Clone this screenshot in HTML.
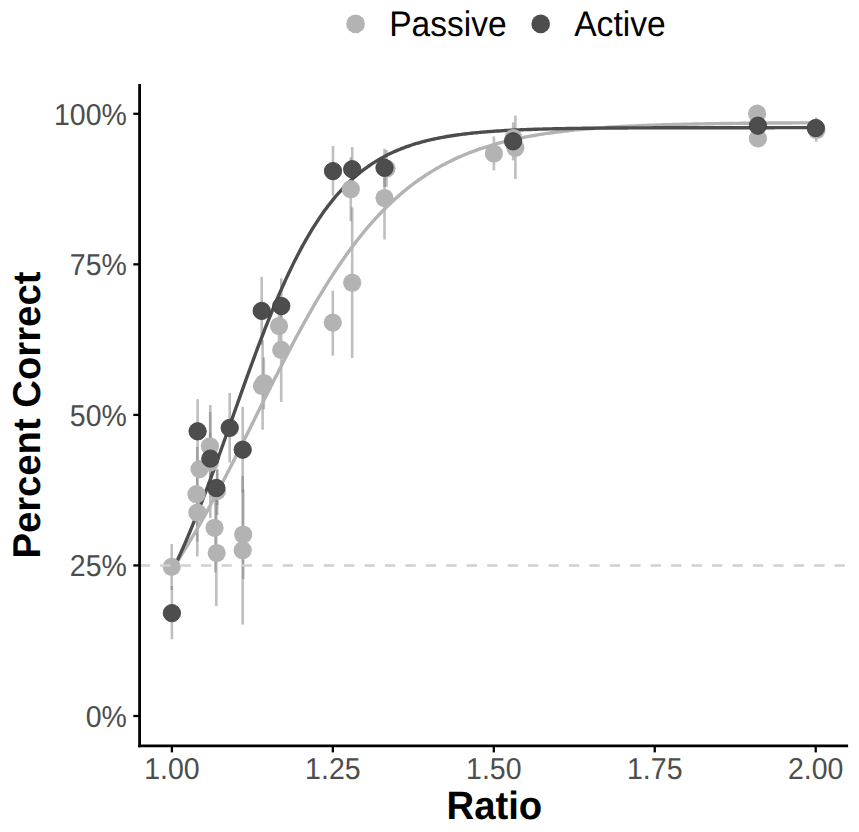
<!DOCTYPE html>
<html><head><meta charset="utf-8"><style>
html,body{margin:0;padding:0;background:#fff;}
svg{display:block;}
text{font-family:"Liberation Sans",sans-serif;text-rendering:geometricPrecision;}
</style></head><body>
<svg width="859" height="832" viewBox="0 0 859 832">
<rect width="859" height="832" fill="#fff"/>
<g stroke="#7f7f7f" stroke-opacity="0.5" stroke-width="2.6">
<line x1="171.7" y1="544.1" x2="171.7" y2="590"/>
<line x1="171.9" y1="586" x2="171.9" y2="639.3"/>
<line x1="197.6" y1="399.1" x2="197.6" y2="463.4"/>
<line x1="197.2" y1="446.9" x2="197.2" y2="541.5"/>
<line x1="197.3" y1="468.8" x2="197.3" y2="556.4"/>
<line x1="210.3" y1="405" x2="210.3" y2="518"/>
<line x1="210.2" y1="412" x2="210.2" y2="480.6"/>
<line x1="210.2" y1="432.9" x2="210.2" y2="470"/>
<line x1="217.2" y1="468.8" x2="217.2" y2="515"/>
<line x1="217.2" y1="470" x2="217.2" y2="505"/>
<line x1="215.4" y1="483.2" x2="215.4" y2="572.4"/>
<line x1="216.3" y1="499.9" x2="216.3" y2="606.1"/>
<line x1="229.7" y1="393" x2="229.7" y2="462.5"/>
<line x1="242.7" y1="406.8" x2="242.7" y2="492.6"/>
<line x1="243.2" y1="489.3" x2="243.2" y2="579.2"/>
<line x1="242.7" y1="475.8" x2="242.7" y2="624.6"/>
<line x1="261.7" y1="276.9" x2="261.7" y2="344.9"/>
<line x1="262.6" y1="340" x2="262.6" y2="429.7"/>
<line x1="263.8" y1="357.5" x2="263.8" y2="409.4"/>
<line x1="281.3" y1="278.4" x2="281.3" y2="333.6"/>
<line x1="281.2" y1="298" x2="281.2" y2="401.9"/>
<line x1="279" y1="300" x2="279" y2="352"/>
<line x1="333" y1="146" x2="333" y2="195.7"/>
<line x1="332.8" y1="290.7" x2="332.8" y2="355.7"/>
<line x1="352.2" y1="147" x2="352.2" y2="191.4"/>
<line x1="350.8" y1="157.3" x2="350.8" y2="221.2"/>
<line x1="352.2" y1="207.4" x2="352.2" y2="358"/>
<line x1="384.5" y1="148.7" x2="384.5" y2="186.9"/>
<line x1="384.5" y1="156.5" x2="384.5" y2="239.5"/>
<line x1="386.5" y1="150" x2="386.5" y2="187"/>
<line x1="493.9" y1="136.5" x2="493.9" y2="170.4"/>
<line x1="515.4" y1="115.6" x2="515.4" y2="179"/>
<line x1="513.2" y1="122.3" x2="513.2" y2="160.3"/>
<line x1="757.5" y1="108" x2="757.5" y2="142"/>
<line x1="816.2" y1="117.4" x2="816.2" y2="141.7"/>
</g>
<path d="M171.90,569.49 L173.51,567.09 L175.12,564.66 L176.73,562.21 L178.34,559.73 L179.95,557.22 L181.56,554.69 L183.17,552.13 L184.78,549.55 L186.39,546.94 L187.99,544.30 L189.60,541.65 L191.21,538.96 L192.82,536.25 L194.43,533.52 L196.04,530.77 L197.65,527.99 L199.26,525.19 L200.87,522.37 L202.48,519.52 L204.09,516.66 L205.70,513.77 L207.31,510.86 L208.92,507.93 L210.53,504.98 L212.14,502.02 L213.75,499.03 L215.36,496.03 L216.97,493.01 L218.58,489.97 L220.18,486.91 L221.79,483.84 L223.40,480.76 L225.01,477.66 L226.62,474.55 L228.23,471.42 L229.84,468.28 L231.45,465.13 L233.06,461.97 L234.67,458.80 L236.28,455.62 L237.89,452.43 L239.50,449.23 L241.11,446.02 L242.72,442.81 L244.33,439.59 L245.94,436.37 L247.55,433.14 L249.16,429.91 L250.77,426.68 L252.38,423.44 L253.98,420.20 L255.59,416.96 L257.20,413.73 L258.81,410.49 L260.42,407.25 L262.03,404.02 L263.64,400.79 L265.25,397.57 L266.86,394.35 L268.47,391.13 L270.08,387.92 L271.69,384.72 L273.30,381.53 L274.91,378.34 L276.52,375.17 L278.13,372.00 L279.74,368.85 L281.35,365.71 L282.96,362.58 L284.57,359.46 L286.17,356.35 L287.78,353.26 L289.39,350.19 L291.00,347.13 L292.61,344.08 L294.22,341.06 L295.83,338.05 L297.44,335.05 L299.05,332.08 L300.66,329.13 L302.27,326.19 L303.88,323.27 L305.49,320.38 L307.10,317.50 L308.71,314.65 L310.32,311.82 L311.93,309.01 L313.54,306.22 L315.15,303.46 L316.76,300.72 L318.36,298.00 L319.97,295.31 L321.58,292.64 L323.19,290.00 L324.80,287.38 L326.41,284.79 L328.02,282.22 L329.63,279.68 L331.24,277.17 L332.85,274.68 L334.46,272.21 L336.07,269.78 L337.68,267.37 L339.29,264.98 L340.90,262.63 L342.51,260.30 L344.12,257.99 L345.73,255.72 L347.34,253.47 L348.94,251.25 L350.55,249.06 L352.16,246.89 L353.77,244.75 L355.38,242.64 L356.99,240.56 L358.60,238.50 L360.21,236.47 L361.82,234.47 L363.43,232.49 L365.04,230.54 L366.65,228.62 L368.26,226.73 L369.87,224.86 L371.48,223.02 L373.09,221.20 L374.70,219.42 L376.31,217.65 L377.92,215.92 L379.53,214.21 L381.13,212.52 L382.74,210.86 L384.35,209.23 L385.96,207.62 L387.57,206.03 L389.18,204.47 L390.79,202.94 L392.40,201.43 L394.01,199.94 L395.62,198.48 L397.23,197.04 L398.84,195.62 L400.45,194.23 L402.06,192.86 L403.67,191.52 L405.28,190.19 L406.89,188.89 L408.50,187.61 L410.11,186.35 L411.72,185.11 L413.32,183.90 L414.93,182.70 L416.54,181.53 L418.15,180.37 L419.76,179.24 L421.37,178.13 L422.98,177.03 L424.59,175.96 L426.20,174.90 L427.81,173.86 L429.42,172.85 L431.03,171.85 L432.64,170.86 L434.25,169.90 L435.86,168.95 L437.47,168.03 L439.08,167.11 L440.69,166.22 L442.30,165.34 L443.91,164.48 L445.51,163.63 L447.12,162.80 L448.73,161.99 L450.34,161.19 L451.95,160.40 L453.56,159.63 L455.17,158.88 L456.78,158.14 L458.39,157.41 L460.00,156.70 L461.61,156.00 L463.22,155.31 L464.83,154.64 L466.44,153.98 L468.05,153.34 L469.66,152.70 L471.27,152.08 L472.88,151.47 L474.49,150.88 L476.10,150.29 L477.71,149.72 L479.31,149.15 L480.92,148.60 L482.53,148.06 L484.14,147.53 L485.75,147.01 L487.36,146.50 L488.97,146.00 L490.58,145.51 L492.19,145.03 L493.80,144.56 L495.41,144.10 L497.02,143.65 L498.63,143.21 L500.24,142.78 L501.85,142.35 L503.46,141.94 L505.07,141.53 L506.68,141.13 L508.29,140.74 L509.89,140.36 L511.50,139.98 L513.11,139.62 L514.72,139.26 L516.33,138.90 L517.94,138.56 L519.55,138.22 L521.16,137.89 L522.77,137.56 L524.38,137.25 L525.99,136.94 L527.60,136.63 L529.21,136.33 L530.82,136.04 L532.43,135.75 L534.04,135.47 L535.65,135.20 L537.26,134.93 L538.87,134.67 L540.48,134.41 L542.09,134.16 L543.69,133.91 L545.30,133.67 L546.91,133.43 L548.52,133.20 L550.13,132.97 L551.74,132.75 L553.35,132.53 L554.96,132.32 L556.57,132.11 L558.18,131.91 L559.79,131.71 L561.40,131.51 L563.01,131.32 L564.62,131.13 L566.23,130.95 L567.84,130.77 L569.45,130.59 L571.06,130.42 L572.67,130.25 L574.27,130.08 L575.88,129.92 L577.49,129.76 L579.10,129.61 L580.71,129.46 L582.32,129.31 L583.93,129.16 L585.54,129.02 L587.15,128.88 L588.76,128.75 L590.37,128.61 L591.98,128.48 L593.59,128.36 L595.20,128.23 L596.81,128.11 L598.42,127.99 L600.03,127.87 L601.64,127.76 L603.25,127.64 L604.86,127.53 L606.47,127.43 L608.07,127.32 L609.68,127.22 L611.29,127.12 L612.90,127.02 L614.51,126.92 L616.12,126.83 L617.73,126.74 L619.34,126.65 L620.95,126.56 L622.56,126.47 L624.17,126.39 L625.78,126.30 L627.39,126.22 L629.00,126.14 L630.61,126.06 L632.22,125.99 L633.83,125.91 L635.44,125.84 L637.05,125.77 L638.66,125.70 L640.26,125.63 L641.87,125.57 L643.48,125.50 L645.09,125.44 L646.70,125.37 L648.31,125.31 L649.92,125.25 L651.53,125.19 L653.14,125.14 L654.75,125.08 L656.36,125.03 L657.97,124.97 L659.58,124.92 L661.19,124.87 L662.80,124.82 L664.41,124.77 L666.02,124.72 L667.63,124.67 L669.24,124.63 L670.84,124.58 L672.45,124.54 L674.06,124.49 L675.67,124.45 L677.28,124.41 L678.89,124.37 L680.50,124.33 L682.11,124.29 L683.72,124.25 L685.33,124.22 L686.94,124.18 L688.55,124.14 L690.16,124.11 L691.77,124.08 L693.38,124.04 L694.99,124.01 L696.60,123.98 L698.21,123.95 L699.82,123.92 L701.43,123.89 L703.04,123.86 L704.64,123.83 L706.25,123.80 L707.86,123.77 L709.47,123.75 L711.08,123.72 L712.69,123.69 L714.30,123.67 L715.91,123.64 L717.52,123.62 L719.13,123.60 L720.74,123.57 L722.35,123.55 L723.96,123.53 L725.57,123.51 L727.18,123.49 L728.79,123.47 L730.40,123.45 L732.01,123.43 L733.62,123.41 L735.22,123.39 L736.83,123.37 L738.44,123.35 L740.05,123.33 L741.66,123.32 L743.27,123.30 L744.88,123.28 L746.49,123.27 L748.10,123.25 L749.71,123.24 L751.32,123.22 L752.93,123.21 L754.54,123.19 L756.15,123.18 L757.76,123.16 L759.37,123.15 L760.98,123.14 L762.59,123.12 L764.20,123.11 L765.81,123.10 L767.41,123.09 L769.02,123.07 L770.63,123.06 L772.24,123.05 L773.85,123.04 L775.46,123.03 L777.07,123.02 L778.68,123.01 L780.29,123.00 L781.90,122.99 L783.51,122.98 L785.12,122.97 L786.73,122.96 L788.34,122.95 L789.95,122.94 L791.56,122.93 L793.17,122.92 L794.78,122.92 L796.39,122.91 L798.00,122.90 L799.61,122.89 L801.21,122.88 L802.82,122.88 L804.43,122.87 L806.04,122.86 L807.65,122.85 L809.26,122.85 L810.87,122.84 L812.48,122.83 L814.09,122.83 L815.70,122.82" fill="none" stroke="#b3b3b3" stroke-width="3.4"/>
<path d="M171.90,571.87 L173.51,568.55 L175.12,565.17 L176.73,561.75 L178.34,558.27 L179.95,554.73 L181.56,551.15 L183.17,547.51 L184.78,543.83 L186.39,540.09 L187.99,536.31 L189.60,532.47 L191.21,528.59 L192.82,524.67 L194.43,520.70 L196.04,516.68 L197.65,512.63 L199.26,508.53 L200.87,504.39 L202.48,500.22 L204.09,496.01 L205.70,491.76 L207.31,487.48 L208.92,483.17 L210.53,478.83 L212.14,474.46 L213.75,470.07 L215.36,465.65 L216.97,461.21 L218.58,456.75 L220.18,452.27 L221.79,447.78 L223.40,443.27 L225.01,438.75 L226.62,434.22 L228.23,429.68 L229.84,425.14 L231.45,420.59 L233.06,416.04 L234.67,411.50 L236.28,406.96 L237.89,402.42 L239.50,397.89 L241.11,393.38 L242.72,388.87 L244.33,384.38 L245.94,379.91 L247.55,375.45 L249.16,371.02 L250.77,366.60 L252.38,362.22 L253.98,357.86 L255.59,353.52 L257.20,349.22 L258.81,344.95 L260.42,340.72 L262.03,336.52 L263.64,332.35 L265.25,328.23 L266.86,324.14 L268.47,320.10 L270.08,316.09 L271.69,312.14 L273.30,308.22 L274.91,304.36 L276.52,300.54 L278.13,296.77 L279.74,293.05 L281.35,289.37 L282.96,285.75 L284.57,282.18 L286.17,278.66 L287.78,275.20 L289.39,271.78 L291.00,268.43 L292.61,265.12 L294.22,261.87 L295.83,258.67 L297.44,255.53 L299.05,252.44 L300.66,249.41 L302.27,246.43 L303.88,243.50 L305.49,240.63 L307.10,237.82 L308.71,235.06 L310.32,232.35 L311.93,229.69 L313.54,227.09 L315.15,224.55 L316.76,222.05 L318.36,219.61 L319.97,217.22 L321.58,214.87 L323.19,212.58 L324.80,210.35 L326.41,208.15 L328.02,206.01 L329.63,203.92 L331.24,201.88 L332.85,199.88 L334.46,197.93 L336.07,196.02 L337.68,194.16 L339.29,192.34 L340.90,190.57 L342.51,188.84 L344.12,187.15 L345.73,185.50 L347.34,183.90 L348.94,182.33 L350.55,180.80 L352.16,179.31 L353.77,177.86 L355.38,176.45 L356.99,175.07 L358.60,173.73 L360.21,172.42 L361.82,171.15 L363.43,169.91 L365.04,168.70 L366.65,167.53 L368.26,166.38 L369.87,165.27 L371.48,164.19 L373.09,163.13 L374.70,162.11 L376.31,161.11 L377.92,160.14 L379.53,159.19 L381.13,158.28 L382.74,157.38 L384.35,156.51 L385.96,155.67 L387.57,154.85 L389.18,154.05 L390.79,153.28 L392.40,152.52 L394.01,151.79 L395.62,151.08 L397.23,150.39 L398.84,149.71 L400.45,149.06 L402.06,148.43 L403.67,147.81 L405.28,147.21 L406.89,146.63 L408.50,146.07 L410.11,145.52 L411.72,144.99 L413.32,144.47 L414.93,143.97 L416.54,143.48 L418.15,143.01 L419.76,142.55 L421.37,142.10 L422.98,141.67 L424.59,141.25 L426.20,140.84 L427.81,140.44 L429.42,140.06 L431.03,139.68 L432.64,139.32 L434.25,138.97 L435.86,138.63 L437.47,138.30 L439.08,137.98 L440.69,137.67 L442.30,137.36 L443.91,137.07 L445.51,136.78 L447.12,136.51 L448.73,136.24 L450.34,135.98 L451.95,135.73 L453.56,135.48 L455.17,135.25 L456.78,135.02 L458.39,134.79 L460.00,134.58 L461.61,134.37 L463.22,134.16 L464.83,133.96 L466.44,133.77 L468.05,133.59 L469.66,133.41 L471.27,133.23 L472.88,133.06 L474.49,132.90 L476.10,132.74 L477.71,132.58 L479.31,132.43 L480.92,132.29 L482.53,132.15 L484.14,132.01 L485.75,131.88 L487.36,131.75 L488.97,131.62 L490.58,131.50 L492.19,131.38 L493.80,131.27 L495.41,131.16 L497.02,131.05 L498.63,130.95 L500.24,130.85 L501.85,130.75 L503.46,130.66 L505.07,130.57 L506.68,130.48 L508.29,130.39 L509.89,130.31 L511.50,130.23 L513.11,130.15 L514.72,130.07 L516.33,130.00 L517.94,129.93 L519.55,129.86 L521.16,129.79 L522.77,129.72 L524.38,129.66 L525.99,129.60 L527.60,129.54 L529.21,129.48 L530.82,129.43 L532.43,129.37 L534.04,129.32 L535.65,129.27 L537.26,129.22 L538.87,129.17 L540.48,129.13 L542.09,129.08 L543.69,129.04 L545.30,128.99 L546.91,128.95 L548.52,128.91 L550.13,128.88 L551.74,128.84 L553.35,128.80 L554.96,128.77 L556.57,128.73 L558.18,128.70 L559.79,128.67 L561.40,128.64 L563.01,128.61 L564.62,128.58 L566.23,128.55 L567.84,128.52 L569.45,128.50 L571.06,128.47 L572.67,128.45 L574.27,128.42 L575.88,128.40 L577.49,128.38 L579.10,128.35 L580.71,128.33 L582.32,128.31 L583.93,128.29 L585.54,128.27 L587.15,128.25 L588.76,128.24 L590.37,128.22 L591.98,128.20 L593.59,128.18 L595.20,128.17 L596.81,128.15 L598.42,128.14 L600.03,128.12 L601.64,128.11 L603.25,128.09 L604.86,128.08 L606.47,128.07 L608.07,128.06 L609.68,128.04 L611.29,128.03 L612.90,128.02 L614.51,128.01 L616.12,128.00 L617.73,127.99 L619.34,127.98 L620.95,127.97 L622.56,127.96 L624.17,127.95 L625.78,127.94 L627.39,127.93 L629.00,127.92 L630.61,127.92 L632.22,127.91 L633.83,127.90 L635.44,127.89 L637.05,127.89 L638.66,127.88 L640.26,127.87 L641.87,127.87 L643.48,127.86 L645.09,127.85 L646.70,127.85 L648.31,127.84 L649.92,127.84 L651.53,127.83 L653.14,127.82 L654.75,127.82 L656.36,127.81 L657.97,127.81 L659.58,127.81 L661.19,127.80 L662.80,127.80 L664.41,127.79 L666.02,127.79 L667.63,127.78 L669.24,127.78 L670.84,127.78 L672.45,127.77 L674.06,127.77 L675.67,127.77 L677.28,127.76 L678.89,127.76 L680.50,127.76 L682.11,127.75 L683.72,127.75 L685.33,127.75 L686.94,127.75 L688.55,127.74 L690.16,127.74 L691.77,127.74 L693.38,127.74 L694.99,127.73 L696.60,127.73 L698.21,127.73 L699.82,127.73 L701.43,127.72 L703.04,127.72 L704.64,127.72 L706.25,127.72 L707.86,127.72 L709.47,127.71 L711.08,127.71 L712.69,127.71 L714.30,127.71 L715.91,127.71 L717.52,127.71 L719.13,127.71 L720.74,127.70 L722.35,127.70 L723.96,127.70 L725.57,127.70 L727.18,127.70 L728.79,127.70 L730.40,127.70 L732.01,127.70 L733.62,127.69 L735.22,127.69 L736.83,127.69 L738.44,127.69 L740.05,127.69 L741.66,127.69 L743.27,127.69 L744.88,127.69 L746.49,127.69 L748.10,127.69 L749.71,127.68 L751.32,127.68 L752.93,127.68 L754.54,127.68 L756.15,127.68 L757.76,127.68 L759.37,127.68 L760.98,127.68 L762.59,127.68 L764.20,127.68 L765.81,127.68 L767.41,127.68 L769.02,127.68 L770.63,127.68 L772.24,127.68 L773.85,127.68 L775.46,127.67 L777.07,127.67 L778.68,127.67 L780.29,127.67 L781.90,127.67 L783.51,127.67 L785.12,127.67 L786.73,127.67 L788.34,127.67 L789.95,127.67 L791.56,127.67 L793.17,127.67 L794.78,127.67 L796.39,127.67 L798.00,127.67 L799.61,127.67 L801.21,127.67 L802.82,127.67 L804.43,127.67 L806.04,127.67 L807.65,127.67 L809.26,127.67 L810.87,127.67 L812.48,127.67 L814.09,127.67 L815.70,127.67" fill="none" stroke="#4d4d4d" stroke-width="3.4"/>
<circle cx="171.7" cy="566.9" r="9.1" fill="#b3b3b3"/>
<circle cx="196.5" cy="494.2" r="9.1" fill="#b3b3b3"/>
<circle cx="197.3" cy="512.6" r="9.1" fill="#b3b3b3"/>
<circle cx="199.5" cy="469.1" r="9.1" fill="#b3b3b3"/>
<circle cx="209.9" cy="446.3" r="9.1" fill="#b3b3b3"/>
<circle cx="210" cy="462.5" r="9.1" fill="#b3b3b3"/>
<circle cx="214.5" cy="527.8" r="9.1" fill="#b3b3b3"/>
<circle cx="216.7" cy="553" r="9.1" fill="#b3b3b3"/>
<circle cx="217" cy="491" r="9.1" fill="#b3b3b3"/>
<circle cx="243.2" cy="534.5" r="9.1" fill="#b3b3b3"/>
<circle cx="242.7" cy="550.2" r="9.1" fill="#b3b3b3"/>
<circle cx="262" cy="386" r="9.1" fill="#b3b3b3"/>
<circle cx="264" cy="383" r="9.1" fill="#b3b3b3"/>
<circle cx="279" cy="326" r="9.1" fill="#b3b3b3"/>
<circle cx="281.2" cy="349.9" r="9.1" fill="#b3b3b3"/>
<circle cx="332.8" cy="322.6" r="9.1" fill="#b3b3b3"/>
<circle cx="350.8" cy="189.2" r="9.1" fill="#b3b3b3"/>
<circle cx="352.2" cy="282.7" r="9.1" fill="#b3b3b3"/>
<circle cx="384.5" cy="198" r="9.1" fill="#b3b3b3"/>
<circle cx="386.5" cy="168.5" r="9.1" fill="#b3b3b3"/>
<circle cx="493.9" cy="153.5" r="9.1" fill="#b3b3b3"/>
<circle cx="513.5" cy="138" r="9.1" fill="#b3b3b3"/>
<circle cx="515.4" cy="147.8" r="9.1" fill="#b3b3b3"/>
<circle cx="757.1" cy="113.7" r="9.1" fill="#b3b3b3"/>
<circle cx="757.9" cy="138.4" r="9.1" fill="#b3b3b3"/>
<circle cx="816.5" cy="130" r="9.1" fill="#b3b3b3"/>
<circle cx="171.9" cy="613.1" r="8.7" fill="#4d4d4d" stroke="#3c3c3c" stroke-width="0.8"/>
<circle cx="197.6" cy="431.3" r="8.7" fill="#4d4d4d" stroke="#3c3c3c" stroke-width="0.8"/>
<circle cx="210.4" cy="458.6" r="8.7" fill="#4d4d4d" stroke="#3c3c3c" stroke-width="0.8"/>
<circle cx="216.3" cy="488" r="8.7" fill="#4d4d4d" stroke="#3c3c3c" stroke-width="0.8"/>
<circle cx="229.7" cy="427.9" r="8.7" fill="#4d4d4d" stroke="#3c3c3c" stroke-width="0.8"/>
<circle cx="242.7" cy="449.7" r="8.7" fill="#4d4d4d" stroke="#3c3c3c" stroke-width="0.8"/>
<circle cx="261.7" cy="310.9" r="8.7" fill="#4d4d4d" stroke="#3c3c3c" stroke-width="0.8"/>
<circle cx="281.3" cy="306" r="8.7" fill="#4d4d4d" stroke="#3c3c3c" stroke-width="0.8"/>
<circle cx="333" cy="171.1" r="8.7" fill="#4d4d4d" stroke="#3c3c3c" stroke-width="0.8"/>
<circle cx="352.2" cy="169.2" r="8.7" fill="#4d4d4d" stroke="#3c3c3c" stroke-width="0.8"/>
<circle cx="384.5" cy="167.8" r="8.7" fill="#4d4d4d" stroke="#3c3c3c" stroke-width="0.8"/>
<circle cx="513.1" cy="141.3" r="8.7" fill="#4d4d4d" stroke="#3c3c3c" stroke-width="0.8"/>
<circle cx="757.9" cy="125.7" r="8.7" fill="#4d4d4d" stroke="#3c3c3c" stroke-width="0.8"/>
<circle cx="815.8" cy="128" r="8.7" fill="#4d4d4d" stroke="#3c3c3c" stroke-width="0.8"/>
<line x1="139.7" y1="565.4" x2="848" y2="565.4" stroke="#d0d0d0" stroke-width="2.5" stroke-dasharray="10.3 10.14"/>
<line x1="139.6" y1="83.9" x2="139.6" y2="747.2" stroke="#000" stroke-width="2.8"/>
<line x1="138.2" y1="745.85" x2="848.1" y2="745.85" stroke="#000" stroke-width="2.7"/>
<line x1="133.3" y1="716.00" x2="139" y2="716.00" stroke="#000" stroke-width="2.3"/>
<text transform="translate(126.9,727.00) scale(1,1.06)" font-size="28.5" fill="#4d4d4d" text-anchor="end">0%</text>
<line x1="133.3" y1="565.45" x2="139" y2="565.45" stroke="#000" stroke-width="2.3"/>
<text transform="translate(126.9,576.45) scale(1,1.06)" font-size="28.5" fill="#4d4d4d" text-anchor="end">25%</text>
<line x1="133.3" y1="414.90" x2="139" y2="414.90" stroke="#000" stroke-width="2.3"/>
<text transform="translate(126.9,425.90) scale(1,1.06)" font-size="28.5" fill="#4d4d4d" text-anchor="end">50%</text>
<line x1="133.3" y1="264.35" x2="139" y2="264.35" stroke="#000" stroke-width="2.3"/>
<text transform="translate(126.9,275.35) scale(1,1.06)" font-size="28.5" fill="#4d4d4d" text-anchor="end">75%</text>
<line x1="133.3" y1="113.80" x2="139" y2="113.80" stroke="#000" stroke-width="2.3"/>
<text transform="translate(126.9,124.80) scale(1,1.06)" font-size="28.5" fill="#4d4d4d" text-anchor="end">100%</text>
<line x1="171.90" y1="747" x2="171.90" y2="752.4" stroke="#000" stroke-width="2.3"/>
<text transform="translate(171.90,778.6) scale(1,1.06)" font-size="28.5" fill="#4d4d4d" text-anchor="middle">1.00</text>
<line x1="332.85" y1="747" x2="332.85" y2="752.4" stroke="#000" stroke-width="2.3"/>
<text transform="translate(332.85,778.6) scale(1,1.06)" font-size="28.5" fill="#4d4d4d" text-anchor="middle">1.25</text>
<line x1="493.80" y1="747" x2="493.80" y2="752.4" stroke="#000" stroke-width="2.3"/>
<text transform="translate(493.80,778.6) scale(1,1.06)" font-size="28.5" fill="#4d4d4d" text-anchor="middle">1.50</text>
<line x1="654.75" y1="747" x2="654.75" y2="752.4" stroke="#000" stroke-width="2.3"/>
<text transform="translate(654.75,778.6) scale(1,1.06)" font-size="28.5" fill="#4d4d4d" text-anchor="middle">1.75</text>
<line x1="815.70" y1="747" x2="815.70" y2="752.4" stroke="#000" stroke-width="2.3"/>
<text transform="translate(815.70,778.6) scale(1,1.06)" font-size="28.5" fill="#4d4d4d" text-anchor="middle">2.00</text>
<text transform="translate(494.4,819.2) scale(1,1.03)" font-size="38.3" font-weight="bold" fill="#000" text-anchor="middle">Ratio</text>
<text transform="translate(39.8,415.1) rotate(-90) scale(1,1.015)" font-size="38.26" font-weight="bold" fill="#000" text-anchor="middle">Percent Correct</text>
<circle cx="355.6" cy="23.9" r="9.3" fill="#b3b3b3"/>
<circle cx="540.7" cy="23.9" r="9.3" fill="#4d4d4d"/>
<text transform="translate(389.2,36) scale(1,1.06)" font-size="33.6" fill="#000">Passive</text>
<text transform="translate(574.2,36) scale(1,1.06)" font-size="33.6" fill="#000">Active</text>
</svg></body></html>
